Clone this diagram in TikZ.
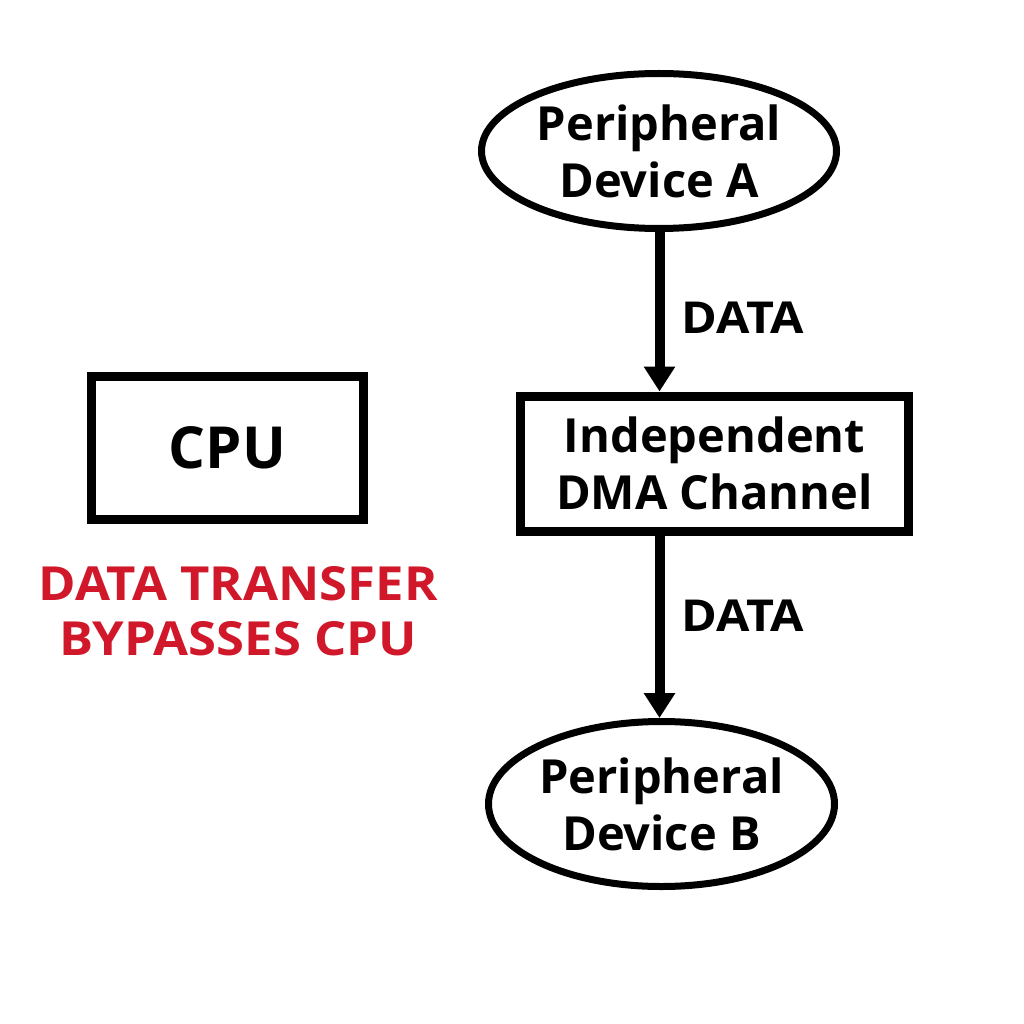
\documentclass[tikz,border=0pt]{standalone}
\usepackage{fontspec}
\setmainfont{Open Sans}
\usetikzlibrary{shapes.geometric,arrows.meta}
\definecolor{alertred}{RGB}{208,24,42}
\tikzset{
  x=1pt,y=-1pt,
  device/.style={ellipse,draw,line width=7pt,inner sep=0pt,align=center,
    font=\fontsize{47}{57}\selectfont\bfseries},
  box/.style={rectangle,draw,line width=9pt,inner sep=0pt,align=center},
  flow/.style={line width=10pt,-{Triangle[width=30pt,length=25pt]}},
  lbl/.style={anchor=base west,inner sep=0pt,font=\fontsize{44}{50}\selectfont\bfseries\addfontfeature{FakeStretch=1.1}},
}
\begin{document}
\begin{tikzpicture}
\useasboundingbox[fill=white] (0,0) rectangle (1024,1024);
\node[device,minimum width=355pt,minimum height=155pt] (A) at (659,151) {Peripheral\\Device A};
\node[box,minimum width=388pt,minimum height=135pt,font=\fontsize{47}{57}\selectfont\bfseries] (DMA) at (714.5,463.5) {Independent\\DMA Channel};
\node[device,minimum width=346pt,minimum height=165pt] (B) at (661.5,804) {Peripheral\\Device B};
\node[box,minimum width=271.5pt,minimum height=143pt,font=\fontsize{58}{60}\selectfont\bfseries] (CPU) at (227.25,447.5) {CPU};
\node[inner sep=0pt,align=center,text=alertred,font=\fontsize{47}{55}\selectfont\bfseries\addfontfeature{FakeStretch=1.08},anchor=base] (note) at (238,655) {DATA TRANSFER\\BYPASSES CPU};
\coordinate (axis) at (659.5,0);
\draw[flow] (A.south -| axis) -- (DMA.north -| axis);
\draw[flow] (DMA.south -| axis) -- (B.north -| axis);
\node[lbl] (d1) at (681,333) {DATA};
\node[lbl] (d2) at (681,631) {DATA};
\end{tikzpicture}
\end{document}
